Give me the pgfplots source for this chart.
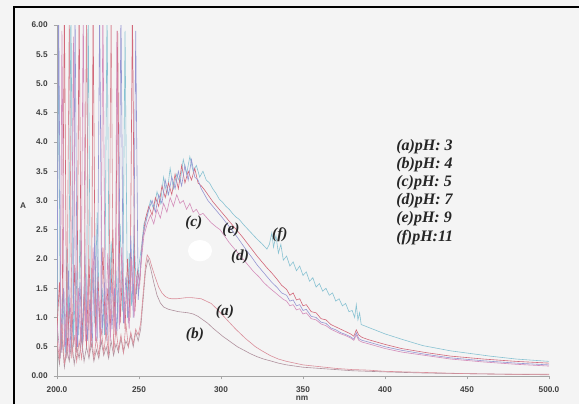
\documentclass[border=0pt]{standalone}
\usepackage{pgfplots}
\pgfplotsset{compat=1.18}
\usepackage{fontspec}
\setmainfont{Liberation Sans}
\newfontfamily\tnr{Liberation Serif}
\definecolor{ca}{HTML}{DA8E9A}
\definecolor{cb}{HTML}{B0929E}
\definecolor{cc}{HTML}{D48DBA}
\definecolor{cd}{HTML}{9696D2}
\definecolor{ce}{HTML}{D2687A}
\definecolor{cf}{HTML}{88C2D2}
\definecolor{bg}{HTML}{F4F4F4}
\begin{document}
\begin{tikzpicture}
\path[use as bounding box, fill=bg] (0,0) rectangle (434.25pt,303pt);
\fill[white] (150pt,115pt) ellipse (9pt and 8pt);
\draw[black, line width=1.9pt] (10.5pt,0) -- (10.5pt,297.75pt) -- (434.25pt,297.75pt);
\begin{axis}[
  at={(42.75pt,21pt)}, anchor=origin,
  scale only axis, width=369pt, height=263.25pt,
  xmin=200, xmax=500, ymin=0, ymax=6,
  axis x line*=bottom, axis y line*=left,
  axis line style={gray!70, line width=0.5pt},
  tick style={gray!70, line width=0.5pt},
  tick align=outside, major tick length=2.5pt,
  xtick={200,250,300,350,400,450,500},
  xticklabels={200.0,250,300,350,400,450,500.0},
  ytick={0,0.5,1,1.5,2,2.5,3,3.5,4,4.5,5,5.5,6},
  yticklabels={0.00,0.5,1.0,1.5,2.0,2.5,3.0,3.5,4.0,4.5,5.0,5.5,6.00},
  ticklabel style={font=\bfseries\fontsize{6.2}{7}\selectfont, text=black!75},
  yticklabel style={xshift=-1pt},
  xticklabel style={yshift=-2pt},
  every axis plot/.append style={line width=0.45pt},
  clip=true,
]
% (f) pH 11
\addplot[cf] coordinates {(200,1.0)(201,5.8)(202,0.5)(203.5,1.4)(205,0.4)(206,2.2)(207,0.6)(208.5,6.3)(210,0.5)(211.5,1.8)(213,0.7)(214,2.5)(215.5,0.6)(217,1.6)(218,0.8)(219,6.3)(220.5,0.7)(222,1.9)(223,0.9)(224.5,2.8)(226,0.8)(227.5,1.5)(229,0.7)(230.5,6.3)(232,0.9)(233,2.3)(234.5,1.0)(236,1.8)(237,0.9)(238.5,2.6)(240,1.1)(241.5,5.9)(243,1.0)(244,2.1)(245.5,1.2)(247,2.4)(248.5,1.4)(250,1.9)(251.5,2.2)(253,2.6)(255,2.75)(257,3.0)(259,2.85)(261,3.15)(263,2.95)(265,3.4)(267,3.1)(269,3.55)(271,3.2)(273,3.45)(275,3.3)(277,3.7)(279,3.45)(281,3.75)(283,3.5)(285,3.6)(287,3.4)(289,3.5)(291,3.35)(293,3.3)(295,3.2)(297,3.12)(299,3.02)(301,2.97)(303,2.9)(305,2.85)(307,2.78)(309,2.72)(311,2.68)(314,2.58)(317,2.49)(320,2.4)(322,2.34)(325,2.26)(328,2.17)(329.5,2.25)(331,2.45)(332,2.2)(333.5,2.4)(335,2.1)(336.5,2.25)(338,1.98)(340,2.05)(342,1.88)(344,1.95)(346,1.8)(348,1.88)(350,1.72)(352,1.78)(354,1.62)(356,1.68)(358,1.52)(360,1.58)(362,1.45)(364,1.5)(366,1.38)(368,1.42)(370,1.28)(372,1.32)(374,1.2)(376,1.24)(378,1.1)(380,1.12)(381.5,1.0)(382.5,1.22)(383.5,0.96)(384.5,1.08)(385.5,0.88)(390,0.83)(400,0.72)(410,0.63)(423,0.52)(440,0.43)(464,0.34)(480,0.29)(500,0.25)};
% (e) pH 9
\addplot[ce] coordinates {(200,0.8)(201.5,1.6)(203,0.4)(204.5,6.3)(206,0.3)(207.5,1.2)(209,0.5)(210.5,1.9)(212,0.4)(213.5,6.3)(215,0.6)(216.5,1.4)(218,0.5)(219.5,2.0)(221,0.6)(222,6.3)(223.5,0.7)(225,1.7)(226.5,0.6)(228,2.2)(229.5,0.7)(231,1.5)(232.5,0.8)(234,2.5)(235.5,0.7)(237,5.9)(238.5,0.9)(240,1.8)(241.5,0.8)(243,2.0)(244.5,1.0)(246,6.3)(247.5,1.1)(249,1.8)(250.5,1.6)(252,2.3)(254,2.7)(256,2.9)(258,2.75)(260,3.05)(262,2.9)(264,3.25)(266,3.05)(268,3.3)(270,3.1)(272,3.45)(274,3.2)(276,3.6)(278,3.3)(280,3.5)(282,3.35)(284,3.55)(286,3.3)(288,3.25)(290,3.18)(292,3.1)(295,2.98)(298,2.88)(301,2.78)(304,2.68)(307,2.58)(310,2.48)(313,2.38)(316,2.27)(319,2.16)(322,2.05)(325,1.95)(328,1.85)(331,1.76)(334,1.66)(337,1.55)(340,1.48)(342,1.38)(344,1.42)(346,1.3)(348,1.32)(350,1.2)(352,1.22)(355,1.1)(358,1.08)(361,0.98)(364,0.96)(367,0.88)(370,0.84)(373,0.8)(376,0.76)(379,0.72)(381,0.68)(382.5,0.79)(384,0.7)(386,0.66)(390,0.62)(400,0.54)(410,0.47)(425,0.4)(440,0.34)(460,0.29)(480,0.25)(500,0.22)};
% (d) pH 7
\addplot[cd] coordinates {(200,1.2)(201,6.3)(202.5,0.4)(204,1.5)(205.5,0.3)(207,1.8)(208.5,0.4)(210,1.1)(211,6.3)(212.5,0.5)(214,1.6)(215.5,0.4)(217,2.1)(218.5,0.6)(220,1.3)(221.5,0.5)(223,2.4)(224.5,0.6)(226,6.3)(227.5,0.7)(229,1.6)(230.5,0.6)(232,2.0)(233.5,0.8)(235,1.5)(236.5,0.7)(238,2.7)(239,6.3)(240.5,0.9)(242,1.7)(243.5,0.9)(245,2.4)(246.5,1.0)(248,5.9)(249.5,1.3)(251,1.9)(252.5,2.4)(254,2.6)(256,2.85)(258,3.0)(260,2.8)(262,3.1)(264,2.95)(266,3.35)(268,3.1)(270,3.4)(272,3.2)(274,3.5)(276,3.25)(278,3.6)(280,3.35)(282,3.7)(284,3.4)(286,3.35)(288,3.2)(290,3.1)(292,3.0)(295,2.9)(298,2.8)(301,2.7)(304,2.59)(307,2.48)(310,2.37)(313,2.25)(316,2.13)(319,2.02)(322,1.9)(325,1.8)(328,1.7)(331,1.6)(334,1.52)(337,1.42)(340,1.38)(342,1.28)(344,1.3)(346,1.2)(348,1.22)(350,1.12)(352,1.14)(355,1.02)(358,1.0)(361,0.92)(364,0.9)(367,0.82)(370,0.79)(373,0.74)(376,0.71)(379,0.67)(381,0.63)(382.5,0.74)(384,0.64)(386,0.61)(390,0.58)(400,0.5)(410,0.44)(425,0.37)(440,0.31)(460,0.26)(480,0.22)(500,0.19)};
% (c) pH 5
\addplot[cc] coordinates {(200,0.9)(202,0.3)(203,5.9)(204.5,0.5)(206,1.3)(207.5,0.3)(209,2.0)(210,5.8)(211.5,0.4)(213,1.5)(214.5,0.5)(216,6.3)(217.5,0.6)(219,1.7)(220.5,0.5)(222,2.2)(223.5,0.6)(225,1.4)(226.5,0.5)(228,6.3)(229.5,0.7)(231,2.1)(232.5,0.6)(234,1.6)(235.5,0.7)(236.5,5.9)(238,0.8)(239.5,2.2)(241,0.9)(242.5,1.5)(244,0.8)(245.5,2.0)(247,1.0)(248.5,1.7)(250,1.5)(251.5,2.0)(253,2.4)(255,2.6)(257,2.75)(259,2.6)(261,2.85)(263,2.7)(265,2.95)(267,2.8)(269,3.05)(271,2.9)(273,3.1)(275,2.95)(277,3.0)(279,2.85)(281,2.95)(283,2.8)(285,2.85)(287,2.75)(289,2.78)(291.5,2.7)(294,2.62)(297,2.55)(299.5,2.5)(302,2.4)(305,2.28)(308,2.18)(311,2.08)(314,1.98)(317,1.88)(320,1.78)(323,1.7)(326,1.6)(329,1.52)(332,1.45)(335,1.38)(338,1.31)(340,1.28)(342,1.2)(344,1.22)(346,1.13)(348,1.15)(350,1.06)(352,1.08)(355,0.98)(358,0.96)(361,0.89)(364,0.86)(367,0.8)(370,0.76)(373,0.72)(376,0.69)(379,0.65)(381,0.61)(382.5,0.7)(384,0.61)(386,0.58)(390,0.55)(400,0.47)(410,0.41)(425,0.35)(440,0.29)(460,0.24)(480,0.2)(500,0.17)};
% (b) pH 4
\addplot[cb] coordinates {(200,0.5)(201.5,0.2)(203,0.7)(204.5,0.15)(206,0.45)(207.5,0.25)(209,0.6)(210.5,0.2)(212,0.5)(213.5,0.3)(215,0.65)(216.5,0.25)(218,0.5)(219.5,0.3)(221,0.55)(222.5,0.25)(224,0.45)(225.5,0.3)(227,0.6)(228.5,0.35)(230,0.5)(231.5,0.3)(233,0.6)(234.5,0.35)(236,0.55)(237.5,0.4)(239,0.65)(240.5,0.4)(242,0.6)(243.5,0.5)(245,0.7)(246.5,0.5)(248,0.75)(249.5,0.6)(251,0.8)(252.5,1.3)(254,1.8)(255.5,2.0)(257,1.85)(259,1.6)(261,1.38)(263,1.25)(265,1.18)(268,1.14)(271,1.12)(274,1.1)(277,1.09)(280,1.08)(283,1.06)(286,1.02)(289,0.96)(292,0.9)(295,0.82)(298,0.75)(301,0.68)(304,0.62)(307,0.56)(310,0.5)(314,0.44)(318,0.38)(322,0.33)(326,0.29)(330,0.26)(335,0.22)(340,0.19)(345,0.17)(350,0.15)(360,0.13)(370,0.11)(380,0.09)(390,0.08)(400,0.07)(425,0.05)(450,0.04)(475,0.03)(500,0.02)};
% (a) pH 3
\addplot[ca] coordinates {(200,0.6)(201.5,0.3)(203,0.9)(204.5,0.2)(206,0.5)(207.5,6.3)(209,0.3)(210.5,0.7)(212,0.25)(213.5,0.6)(215,0.3)(216.5,0.8)(218,6.3)(219.5,0.35)(221,0.7)(222.5,0.3)(224,0.65)(225.5,0.35)(227,0.8)(228.5,0.4)(230,0.75)(231.5,0.35)(233,6.3)(234.5,0.4)(236,0.8)(237.5,0.45)(239,0.7)(240.5,0.4)(242,0.9)(243.5,0.5)(245,0.75)(246.5,0.55)(248,0.8)(249.5,0.7)(251,0.9)(252.5,1.4)(254,1.9)(255,2.07)(256.5,2.0)(258,1.85)(260,1.68)(262,1.52)(264,1.42)(266,1.36)(268,1.33)(270,1.32)(273,1.32)(276,1.33)(279,1.34)(282,1.34)(285,1.33)(288,1.32)(291,1.28)(294,1.24)(297,1.16)(300,1.07)(303,0.98)(306,0.89)(309,0.8)(312,0.72)(315,0.64)(318,0.57)(321,0.5)(325,0.43)(330,0.35)(335,0.29)(340,0.25)(345,0.22)(350,0.19)(360,0.16)(370,0.13)(380,0.11)(390,0.1)(400,0.08)(425,0.06)(450,0.04)(475,0.03)(500,0.03)};
\begin{scope}[every node/.style={font=\tnr\bfseries\itshape\fontsize{11.5}{12}\selectfont, text=black!85, inner sep=0pt}]
\node at (axis cs:283.4,2.62) {(c)};
\node at (axis cs:306.1,2.50) {(e)};
\node at (axis cs:311.6,2.03) {(d)};
\node at (axis cs:335.9,2.41) {(f)};
\node at (axis cs:302.4,1.09) {(a)};
\node at (axis cs:284.1,0.70) {(b)};
\end{scope}
\end{axis}
\node[font=\bfseries\fontsize{6.2}{7}\selectfont, text=black!75] at (17.25pt,148.5pt) {A};
\node[font=\bfseries\fontsize{6.2}{7}\selectfont, text=black!75] at (226.5pt,4.5pt) {nm};
\begin{scope}[every node/.style={font=\tnr\bfseries\itshape\fontsize{12}{13}\selectfont, text=black!85, anchor=west, inner sep=0pt}]
\node at (297pt,192.75pt) {(a)pH: 3};
\node at (297pt,179.25pt) {(b)pH: 4};
\node at (297pt,165.75pt) {(c)pH: 5};
\node at (297pt,152.25pt) {(d)pH: 7};
\node at (297pt,138.75pt) {(e)pH: 9};
\node at (297pt,124.5pt) {(f)pH:11};
\end{scope}
\end{tikzpicture}
\end{document}
